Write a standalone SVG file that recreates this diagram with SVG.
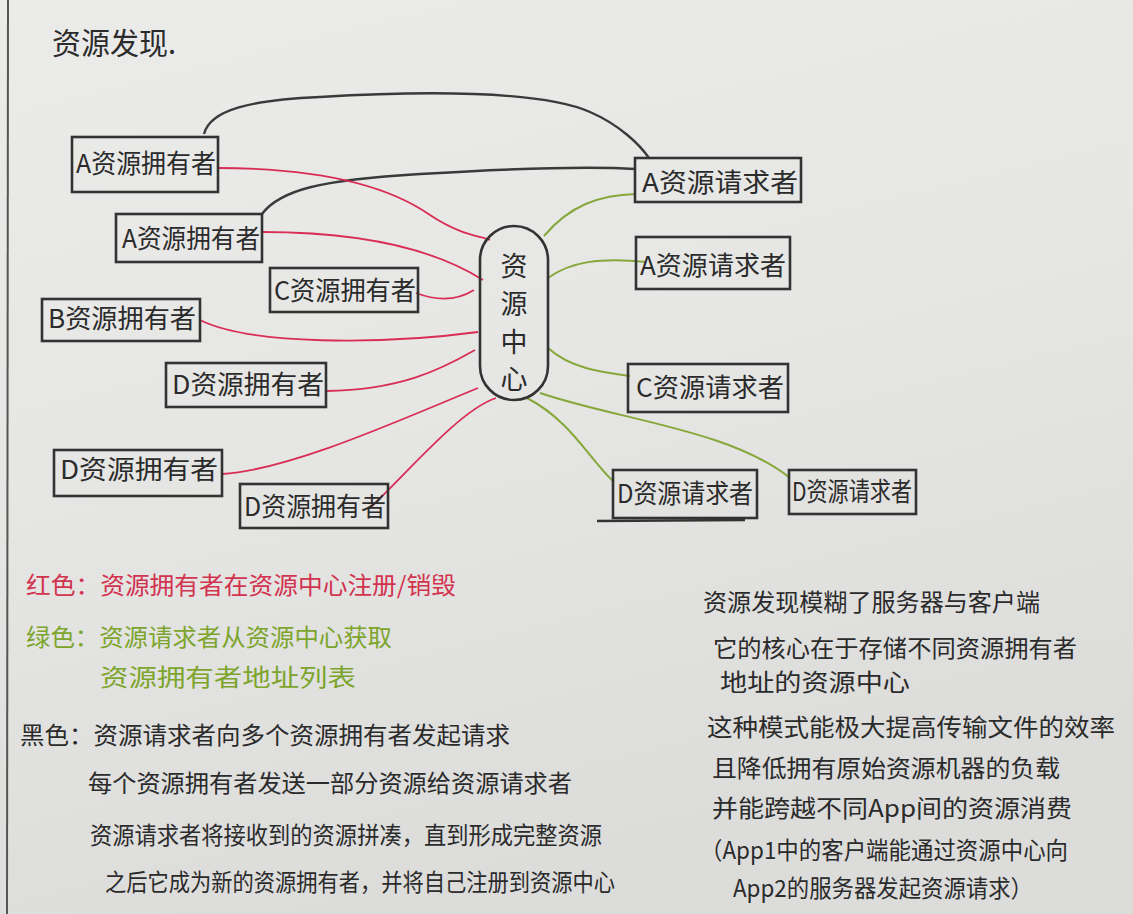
<svg xmlns="http://www.w3.org/2000/svg" width="1133" height="914" viewBox="0 0 1133 914">
<defs>
<linearGradient id="paper" x1="0" y1="0" x2="0.3" y2="1">
<stop offset="0" stop-color="#ebebea"/>
<stop offset="0.5" stop-color="#e6e6e5"/>
<stop offset="1" stop-color="#dcdcdb"/>
</linearGradient>
<style>
.t{font-family:"Noto Sans CJK SC","Noto Sans",sans-serif;fill:#2b2b2b}
.box{fill:none;stroke:#333;stroke-width:2.6}
.lbl{font-size:26px}
.red{fill:none;stroke:#d92d55;stroke-width:1.8}
.grn{fill:none;stroke:#86a83a;stroke-width:2}
.blk{fill:none;stroke:#3a3a3a;stroke-width:2.4}
.leg{font-size:24px}
</style>
</defs>
<rect width="1133" height="914" fill="url(#paper)"/>
<line x1="8" y1="0" x2="7" y2="914" stroke="#555" stroke-width="2"/>

<text class="t" x="52" y="54" font-size="30" textLength="124" lengthAdjust="spacingAndGlyphs">资源发现.</text>

<g id="connectors">
<path class="blk" d="M204,134 C210,110 250,100 320,97 C420,91 540,90 590,112 C620,125 640,145 649,158"/>
<path class="blk" d="M262,214 C280,190 320,180 420,174 C520,168 590,166 635,169"/>
<path class="red" d="M217,168 C300,168 380,180 430,215 C460,235 480,236 490,240"/>
<path class="red" d="M262,232 C330,232 420,240 483,280"/>
<path class="red" d="M416,293 C440,302 458,300 474,290"/>
<path class="red" d="M200,320 C250,345 380,345 478,332"/>
<path class="red" d="M326,391 C400,390 440,370 475,350"/>
<path class="red" d="M222,474 C290,470 400,420 478,388"/>
<path class="red" d="M370,508 C410,470 460,410 496,398"/>
<path class="grn" d="M544,236 C570,205 600,195 636,194"/>
<path class="grn" d="M548,278 C570,262 600,257 646,262"/>
<path class="grn" d="M548,348 C570,368 600,372 630,376"/>
<path class="grn" d="M527,398 C570,420 590,460 614,482"/>
<path class="grn" d="M540,393 C620,420 730,430 790,478"/>
</g>

<g id="center">
<rect class="box" x="480" y="226" width="68" height="174" rx="34"/>
<text class="t" x="514" y="276" font-size="27" text-anchor="middle">资</text>
<text class="t" x="514" y="314" font-size="27" text-anchor="middle">源</text>
<text class="t" x="514" y="352" font-size="27" text-anchor="middle">中</text>
<text class="t" x="514" y="389" font-size="27" text-anchor="middle">心</text>
</g>

<g id="owner-a1">
<rect class="box" x="72" y="137" width="146" height="55"/>
<text class="t lbl" x="76" y="173" textLength="140" lengthAdjust="spacingAndGlyphs">A资源拥有者</text>
</g>
<g id="owner-a2">
<rect class="box" x="116" y="214" width="146" height="48"/>
<text class="t lbl" x="122" y="248" textLength="138" lengthAdjust="spacingAndGlyphs">A资源拥有者</text>
</g>
<g id="owner-c">
<rect class="box" x="270" y="268" width="148" height="44"/>
<text class="t lbl" x="274" y="300" textLength="142" lengthAdjust="spacingAndGlyphs">C资源拥有者</text>
</g>
<g id="owner-b">
<rect class="box" x="42" y="299" width="158" height="42"/>
<text class="t lbl" x="48" y="328" textLength="148" lengthAdjust="spacingAndGlyphs">B资源拥有者</text>
</g>
<g id="owner-d1">
<rect class="box" x="166" y="363" width="160" height="44"/>
<text class="t lbl" x="172" y="394" textLength="152" lengthAdjust="spacingAndGlyphs">D资源拥有者</text>
</g>
<g id="owner-d2">
<rect class="box" x="54" y="450" width="168" height="46"/>
<text class="t lbl" x="60" y="479" textLength="158" lengthAdjust="spacingAndGlyphs">D资源拥有者</text>
</g>
<g id="owner-d3">
<rect class="box" x="240" y="484" width="148" height="44"/>
<text class="t lbl" x="244" y="516" textLength="142" lengthAdjust="spacingAndGlyphs">D资源拥有者</text>
</g>

<g id="req-a1">
<rect class="box" x="635" y="158" width="166" height="44"/>
<text class="t lbl" x="642" y="192" textLength="156" lengthAdjust="spacingAndGlyphs">A资源请求者</text>
</g>
<g id="req-a2">
<rect class="box" x="636" y="237" width="154" height="52"/>
<text class="t lbl" x="640" y="275" textLength="146" lengthAdjust="spacingAndGlyphs">A资源请求者</text>
</g>
<g id="req-c">
<rect class="box" x="628" y="364" width="160" height="48"/>
<text class="t lbl" x="636" y="397" textLength="148" lengthAdjust="spacingAndGlyphs">C资源请求者</text>
</g>
<g id="req-d1">
<rect class="box" x="613" y="470" width="144" height="48"/>
<line class="box" x1="597" y1="521" x2="745" y2="520"/>
<text class="t lbl" x="617" y="503" textLength="136" lengthAdjust="spacingAndGlyphs">D资源请求者</text>
</g>
<g id="req-d2">
<rect class="box" x="789" y="470" width="127" height="44"/>
<text class="t lbl" x="792" y="501" font-size="24" textLength="120" lengthAdjust="spacingAndGlyphs">D资源请求者</text>
</g>

<g id="legend">
<text class="t leg" x="26" y="594" style="fill:#d2334f" textLength="430" lengthAdjust="spacingAndGlyphs">红色：资源拥有者在资源中心注册/销毁</text>
<text class="t leg" x="26" y="646" style="fill:#7da52c" textLength="366" lengthAdjust="spacingAndGlyphs">绿色：资源请求者从资源中心获取</text>
<text class="t leg" x="100" y="686" style="fill:#7da52c" textLength="256" lengthAdjust="spacingAndGlyphs">资源拥有者地址列表</text>
<text class="t leg" x="20" y="744" textLength="490" lengthAdjust="spacingAndGlyphs">黑色：资源请求者向多个资源拥有者发起请求</text>
<text class="t leg" x="88" y="792" textLength="484" lengthAdjust="spacingAndGlyphs">每个资源拥有者发送一部分资源给资源请求者</text>
<text class="t leg" x="90" y="844" textLength="512" lengthAdjust="spacingAndGlyphs">资源请求者将接收到的资源拼凑，直到形成完整资源</text>
<text class="t leg" x="105" y="891" textLength="510" lengthAdjust="spacingAndGlyphs">之后它成为新的资源拥有者，并将自己注册到资源中心</text>
</g>

<g id="notes">
<text class="t leg" x="703" y="611" textLength="337" lengthAdjust="spacingAndGlyphs">资源发现模糊了服务器与客户端</text>
<text class="t leg" x="713" y="657" textLength="364" lengthAdjust="spacingAndGlyphs">它的核心在于存储不同资源拥有者</text>
<text class="t leg" x="720" y="691" textLength="190" lengthAdjust="spacingAndGlyphs">地址的资源中心</text>
<text class="t leg" x="707" y="736" textLength="408" lengthAdjust="spacingAndGlyphs">这种模式能极大提高传输文件的效率</text>
<text class="t leg" x="712" y="777" textLength="348" lengthAdjust="spacingAndGlyphs">且降低拥有原始资源机器的负载</text>
<text class="t leg" x="712" y="817" textLength="360" lengthAdjust="spacingAndGlyphs">并能跨越不同App间的资源消费</text>
<text class="t leg" x="700" y="859" textLength="368" lengthAdjust="spacingAndGlyphs">（App1中的客户端能通过资源中心向</text>
<text class="t leg" x="733" y="897" textLength="300" lengthAdjust="spacingAndGlyphs">App2的服务器发起资源请求）</text>
</g>
</svg>
